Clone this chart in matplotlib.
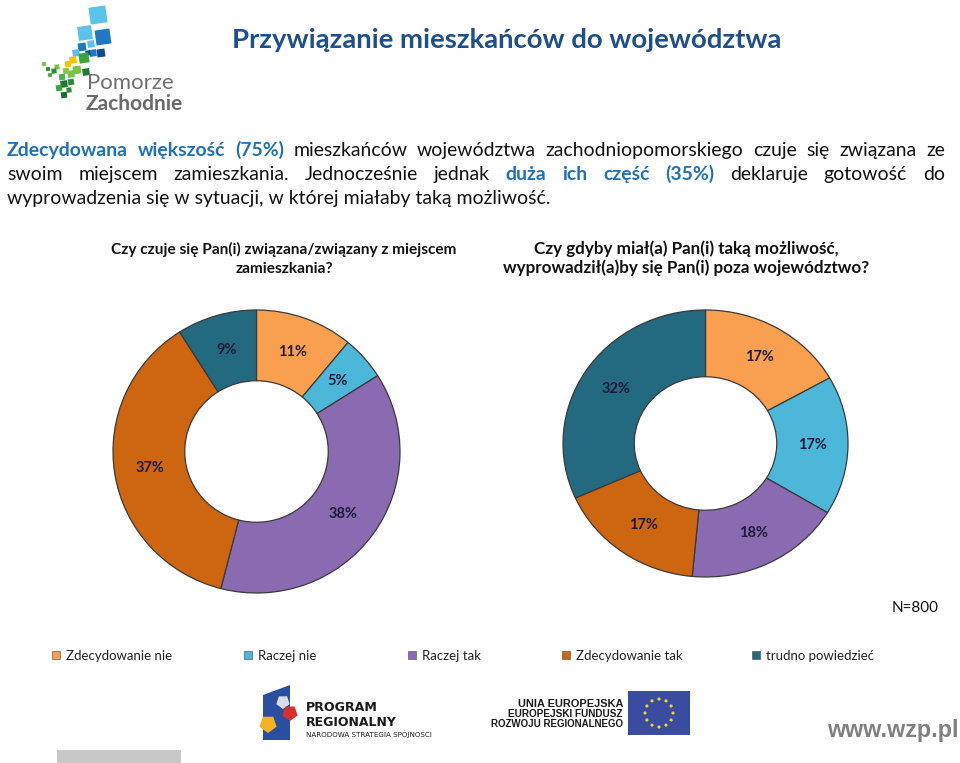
import matplotlib
matplotlib.use("Agg")
import matplotlib.pyplot as plt
from matplotlib.patches import Rectangle, Polygon, RegularPolygon
import numpy as np

plt.rcParams['font.family'] = ['Lato', 'DejaVu Sans']

# ---------------- data ----------------
categories = ['Zdecydowanie nie', 'Raczej nie', 'Raczej tak', 'Zdecydowanie tak', 'trudno powiedzieć']
attached_values = [11, 5, 38, 37, 9]
move_out_values = [17, 17, 18, 17, 32]
colors = ['#F9A050', '#4CB7D8', '#8A6AB0', '#CD6511', '#236A80']

title = 'Przywiązanie mieszkańców do województwa'
q_left = ['Czy czuje się Pan(i) związana/związany z miejscem', 'zamieszkania?']
q_right = ['Czy gdyby miał(a) Pan(i) taką możliwość,', 'wyprowadził(a)by się Pan(i) poza województwo?']
sample_note = 'N=800'

BLUE = '#2170B8'
para_lines = [
    [('Zdecydowana', BLUE, 'bold'), ('większość', BLUE, 'bold'), ('(75%)', BLUE, 'bold'),
     ('mieszkańców', 'k', 'normal'), ('województwa', 'k', 'normal'), ('zachodniopomorskiego', 'k', 'normal'),
     ('czuje', 'k', 'normal'), ('się', 'k', 'normal'), ('związana', 'k', 'normal'), ('ze', 'k', 'normal')],
    [('swoim', 'k', 'normal'), ('miejscem', 'k', 'normal'), ('zamieszkania.', 'k', 'normal'),
     ('Jednocześnie', 'k', 'normal'), ('jednak', 'k', 'normal'), ('duża', BLUE, 'bold'), ('ich', BLUE, 'bold'),
     ('część', BLUE, 'bold'), ('(35%)', BLUE, 'bold'), ('deklaruje', 'k', 'normal'), ('gotowość', 'k', 'normal'),
     ('do', 'k', 'normal')],
]
para_last = 'wyprowadzenia się w sytuacji, w której miałaby taką możliwość.'

W, H = 960, 763
fig = plt.figure(figsize=(W / 100, H / 100), dpi=100)
fig.patch.set_facecolor('white')
bg = fig.add_axes([0, 0, 1, 1])
bg.set_xlim(0, W)
bg.set_ylim(H, 0)
bg.axis('off')
r = fig.canvas.get_renderer()


def fit(t, width):
    w = t.get_window_extent(r).width
    t.set_fontsize(t.get_fontsize() * width / w)
    return t


# ---------------- title ----------------
t = bg.text(232, 48, title, color='#1F4E8C', fontweight='bold', fontsize=18, va='baseline', ha='left')
fit(t, 550)

# ---------------- paragraph ----------------
tl = bg.text(7, 204, para_last, fontsize=12, va='baseline', ha='left', color='#111111')
fit(tl, 541)
pfs = tl.get_fontsize()
for line, y in zip(para_lines, [156, 180]):
    texts = [bg.text(0, y, w, color=c if c != 'k' else '#111111', fontweight=fw, fontsize=pfs,
                     va='baseline', ha='left') for w, c, fw in line]
    widths = [tt.get_window_extent(r).width for tt in texts]
    gap = (945 - 7 - sum(widths)) / (len(texts) - 1)
    x = 7
    for tt, w in zip(texts, widths):
        tt.set_x(x)
        x += w + gap

# ---------------- subtitles ----------------
for lines, cx, w0 in [(q_left, 284, 342), (q_right, 686, 303)]:
    t0 = bg.text(cx, 254, lines[0], fontweight='bold', fontsize=10, ha='center', va='baseline', color='#111111')
    fit(t0, w0)
    bg.text(cx, 273, lines[1], fontweight='bold', fontsize=t0.get_fontsize(), ha='center', va='baseline',
            color='#111111')


# ---------------- donuts ----------------
def donut(values, cx, cy, hr, vr):
    half = 150
    ax = fig.add_axes([(cx - half) / W, (H - cy - half) / H, 2 * half / W, 2 * half / H])
    it = iter(values)
    wedges, texts, autotexts = ax.pie(values, colors=colors, startangle=90, counterclock=False,
                                      radius=1, autopct=lambda p: f'{next(it)}%', pctdistance=0.75,
                                      wedgeprops=dict(width=0.5, edgecolor='#3a3a3a', linewidth=0.9),
                                      textprops=dict(fontsize=10.5, fontweight='bold', color='#1c1c3a'))
    ax.set_aspect('auto')
    ax.set_xlim(-half / hr, half / hr)
    ax.set_ylim(-half / vr, half / vr)
    ax.axis('off')
    return ax


donut(attached_values, 256.5, 451.5, 143.5, 141.5)
donut(move_out_values, 705.5, 443.5, 142.5, 133.5)

# ---------------- N ----------------
tn = bg.text(892, 612, sample_note, fontsize=11, ha='left', va='baseline', color='#111111')
fit(tn, 47)

# ---------------- legend ----------------
leg_x = [52, 244, 408, 562, 752]
leg_texts = []
for x, c, lab in zip(leg_x, colors, categories):
    bg.add_patch(Rectangle((x, 651), 8, 8, facecolor=c, edgecolor='#444444', linewidth=0.4))
    leg_texts.append(bg.text(x + 14, 660, lab, fontsize=8.5, ha='left', va='baseline', color='#222222'))
fit(leg_texts[0], 106)
for tt in leg_texts[1:]:
    tt.set_fontsize(leg_texts[0].get_fontsize())

# ---------------- Pomorze Zachodnie logo ----------------
logo_sq = [  # x, y, size, color
    (98, 15, 17, '#5BC2EC'), (85, 33, 14, '#5BC2EC'), (103, 37, 15, '#1E78C4'),
    (82, 47, 8, '#1E78C4'), (91, 44, 7, '#5BC2EC'), (93, 53, 7, '#1E78C4'), (88, 53, 5, '#0F4C8A'),
    (101, 53, 8, '#0F4C8A'), (76, 53, 7, '#5BC2EC'), (84, 58, 10, '#3BA53B'), (73, 60, 7, '#F2C500'),
    (68, 64, 6, '#F2C500'), (77, 70, 8, '#7CC242'), (71, 74, 7, '#7CC242'), (86, 72, 7, '#1E7A3A'),
    (66, 71, 6, '#8BC34A'), (62, 77, 6, '#4CAF50'), (57, 67, 5, '#7CC242'), (54, 71, 5, '#2E8B3A'),
    (64, 84, 7, '#1E7A3A'), (71, 82, 6, '#2E8B3A'), (59, 88, 6, '#3BA53B'), (64, 95, 6, '#1E6B30'),
    (50, 75, 4, '#4CAF50'), (44, 64, 4, '#7CC242'), (48, 69, 4, '#2E8B3A'), (69, 90, 5, '#2E8B3A'),
]
for x, y, s, c in logo_sq:
    bg.add_patch(Rectangle((x - s / 2, y - s / 2), s, s, facecolor=c, edgecolor='none',
                           transform=matplotlib.transforms.Affine2D().rotate_deg_around(x, y, -8) + bg.transData))
tp = bg.text(87, 89, 'Pomorze', fontsize=16, ha='left', va='baseline', color='#707070', fontweight='normal')
tz = bg.text(86, 110, 'Zachodnie', fontsize=15, ha='left', va='baseline', color='#6a6a6a', fontweight='bold')

# ---------------- Program Regionalny logo ----------------
bg.add_patch(Polygon([[263, 695], [290, 685], [290, 740], [263, 740]], closed=True, facecolor='#2A4F9F',
                     edgecolor='none'))
bg.add_patch(RegularPolygon((283, 702), 5, radius=7, facecolor='#D9DDE8', edgecolor='none'))
bg.add_patch(RegularPolygon((290, 713), 5, radius=8, facecolor='#D6322C', edgecolor='none'))
bg.add_patch(RegularPolygon((268, 724), 5, radius=9, facecolor='#F5B324', edgecolor='none'))
t1 = bg.text(306, 711, 'PROGRAM', fontsize=11, fontweight='bold', ha='left', va='baseline', color='#1a1a1a',
             family=['DejaVu Sans Condensed', 'DejaVu Sans'])
fit(t1, 72)
t2 = bg.text(306, 726, 'REGIONALNY', fontsize=11, fontweight='bold', ha='left', va='baseline', color='#1a1a1a',
             family=['DejaVu Sans Condensed', 'DejaVu Sans'])
fit(t2, 91)
t3 = bg.text(306, 737, 'NARODOWA STRATEGIA SPÓJNOŚCI', fontsize=5, ha='left', va='baseline', color='#1a1a1a',
             family=['DejaVu Sans Condensed', 'DejaVu Sans'])
fit(t3, 125)

# ---------------- EU logo ----------------
for txt, y, w in [('UNIA EUROPEJSKA', 707, 105), ('EUROPEJSKI FUNDUSZ', 717, 115), ('ROZWOJU REGIONALNEGO', 727, 133)]:
    tt = bg.text(623, y, txt, fontsize=7, fontweight='bold', ha='right', va='baseline', color='#1a1a1a',
                 family=['Liberation Sans', 'DejaVu Sans'])
    fit(tt, w)
bg.add_patch(Rectangle((628, 691), 62, 44, facecolor='#3A4CA0', edgecolor='none'))
for a in np.linspace(0, 2 * np.pi, 12, endpoint=False):
    bg.add_patch(RegularPolygon((659 + 14 * np.cos(a), 713 + 14 * np.sin(a)), 5, radius=1.8,
                                facecolor='#F5D328', edgecolor='none'))

# ---------------- www ----------------
tw = bg.text(827, 737, 'www.wzp.pl', fontsize=18, fontweight='bold', ha='left', va='baseline', color='#808080',
             family=['Liberation Sans', 'DejaVu Sans'])
fit(tw, 131)

# gray bar
bg.add_patch(Rectangle((57, 750), 124, 13, facecolor='#C8C8C8', edgecolor='none'))

fig.savefig('out.png', dpi=100, facecolor='white')
